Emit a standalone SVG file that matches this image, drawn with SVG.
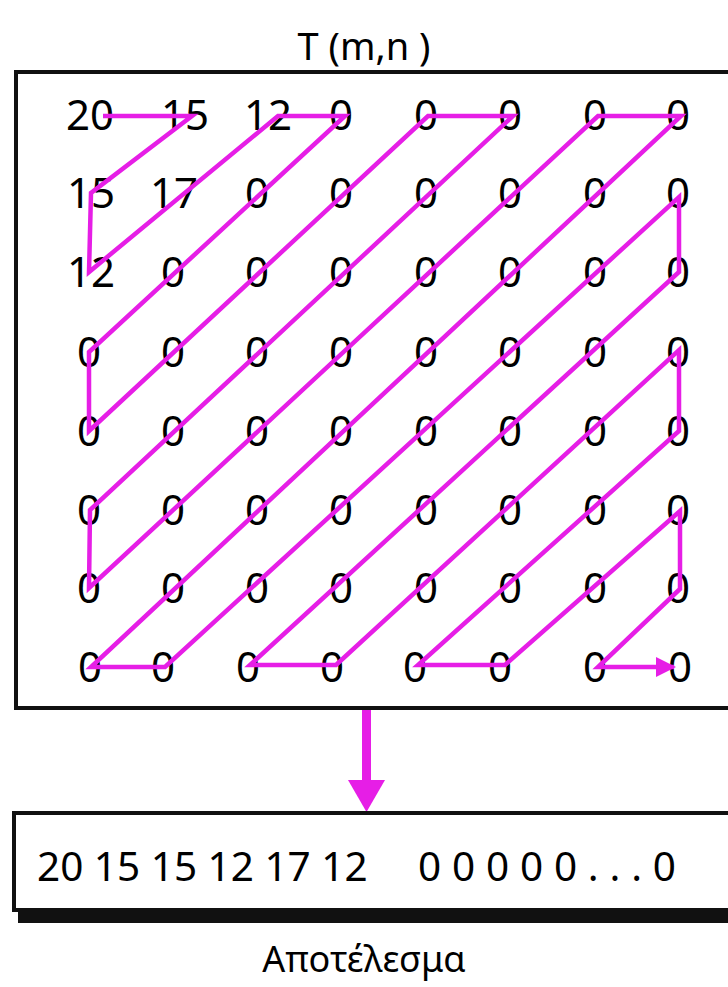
<svg xmlns="http://www.w3.org/2000/svg" width="728" height="987" viewBox="0 0 728 987">
<defs>
<style>
.d{font-family:"Noto Sans","Liberation Sans",sans-serif;font-size:42px;fill:#000;text-anchor:middle}
.t{font-family:"Noto Sans","Liberation Sans",sans-serif;fill:#000}
.box{fill:#fff;stroke:#111;stroke-width:4}
.scan{fill:none;stroke:#e61ee6;stroke-width:4.5;stroke-linejoin:miter;stroke-miterlimit:6}
</style>
<marker id="ah" viewBox="0 0 10 10" refX="9" refY="5" markerWidth="4.5" markerHeight="4.5" orient="auto" markerUnits="strokeWidth">
<path d="M0,0 L10,5 L0,10 Z" fill="#e61ee6"/>
</marker>
</defs>
<rect width="728" height="987" fill="#fff"/>
<g id="title"><text class="t" x="364" y="60" font-size="38" text-anchor="middle">T (m,n )</text></g>
<g id="matrix">
<rect class="box" x="16" y="72" width="730" height="636"/>
<g id="row0">
<text class="d" x="90" y="130">20</text><text class="d" x="185" y="130">15</text><text class="d" x="268" y="130">12</text><text class="d" x="341" y="130">0</text><text class="d" x="426" y="130">0</text><text class="d" x="510" y="130">0</text><text class="d" x="595" y="130">0</text><text class="d" x="678" y="130">0</text>
</g>
<g id="row1">
<text class="d" x="91" y="208">15</text><text class="d" x="174" y="208">17</text><text class="d" x="257" y="208">0</text><text class="d" x="341" y="208">0</text><text class="d" x="426" y="208">0</text><text class="d" x="510" y="208">0</text><text class="d" x="595" y="208">0</text><text class="d" x="678" y="208">0</text>
</g>
<g id="row2">
<text class="d" x="91" y="287">12</text><text class="d" x="173" y="287">0</text><text class="d" x="257" y="287">0</text><text class="d" x="341" y="287">0</text><text class="d" x="426" y="287">0</text><text class="d" x="510" y="287">0</text><text class="d" x="595" y="287">0</text><text class="d" x="678" y="287">0</text>
</g>
<g id="row3">
<text class="d" x="89" y="367">0</text><text class="d" x="173" y="367">0</text><text class="d" x="257" y="367">0</text><text class="d" x="341" y="367">0</text><text class="d" x="426" y="367">0</text><text class="d" x="510" y="367">0</text><text class="d" x="595" y="367">0</text><text class="d" x="678" y="367">0</text>
</g>
<g id="row4">
<text class="d" x="89" y="446">0</text><text class="d" x="173" y="446">0</text><text class="d" x="257" y="446">0</text><text class="d" x="341" y="446">0</text><text class="d" x="426" y="446">0</text><text class="d" x="510" y="446">0</text><text class="d" x="595" y="446">0</text><text class="d" x="678" y="446">0</text>
</g>
<g id="row5">
<text class="d" x="89" y="525">0</text><text class="d" x="173" y="525">0</text><text class="d" x="257" y="525">0</text><text class="d" x="341" y="525">0</text><text class="d" x="426" y="525">0</text><text class="d" x="510" y="525">0</text><text class="d" x="595" y="525">0</text><text class="d" x="678" y="525">0</text>
</g>
<g id="row6">
<text class="d" x="89" y="603">0</text><text class="d" x="173" y="603">0</text><text class="d" x="257" y="603">0</text><text class="d" x="341" y="603">0</text><text class="d" x="426" y="603">0</text><text class="d" x="510" y="603">0</text><text class="d" x="595" y="603">0</text><text class="d" x="678" y="603">0</text>
</g>
<g id="row7">
<text class="d" x="90" y="682">0</text><text class="d" x="163" y="682">0</text><text class="d" x="248" y="682">0</text><text class="d" x="332" y="682">0</text><text class="d" x="415" y="682">0</text><text class="d" x="500" y="682">0</text><text class="d" x="595" y="682">0</text><text class="d" x="680" y="682">0</text>
</g>
</g>
<g id="connectors">
<polyline class="scan" marker-end="url(#ah)" points="103,116 192,116 91,193 89,272 278,116 345,116 89,352 89,431 428,116 513,116 90,510 89,588 598,116 681,116 91,667 165,667 679,197 679,272 250,665 336,665 679,350 679,431 418,665 505,665 680,511 680,589 598,667 674,667"/>
<g id="down-arrow">
<rect x="362" y="710" width="9" height="72" fill="#e61ee6"/>
<path d="M348,780 L385,780 L366.5,812 Z" fill="#e61ee6"/>
</g>
</g>
<g id="result">
<rect x="18" y="910" width="728" height="13" fill="#111"/>
<rect class="box" x="14" y="813" width="730" height="97" stroke-width="3.5"/>
<text class="t" x="37" y="881" font-size="40.5">20 15 15 12 17 12</text>
<text class="t" x="418" y="881" font-size="40.5" textLength="258" lengthAdjust="spacing">0 0 0 0 0 . . . 0</text>
</g>
<g id="caption"><text class="t" x="364" y="972" font-size="36" text-anchor="middle">Αποτέλεσμα</text></g>
</svg>
